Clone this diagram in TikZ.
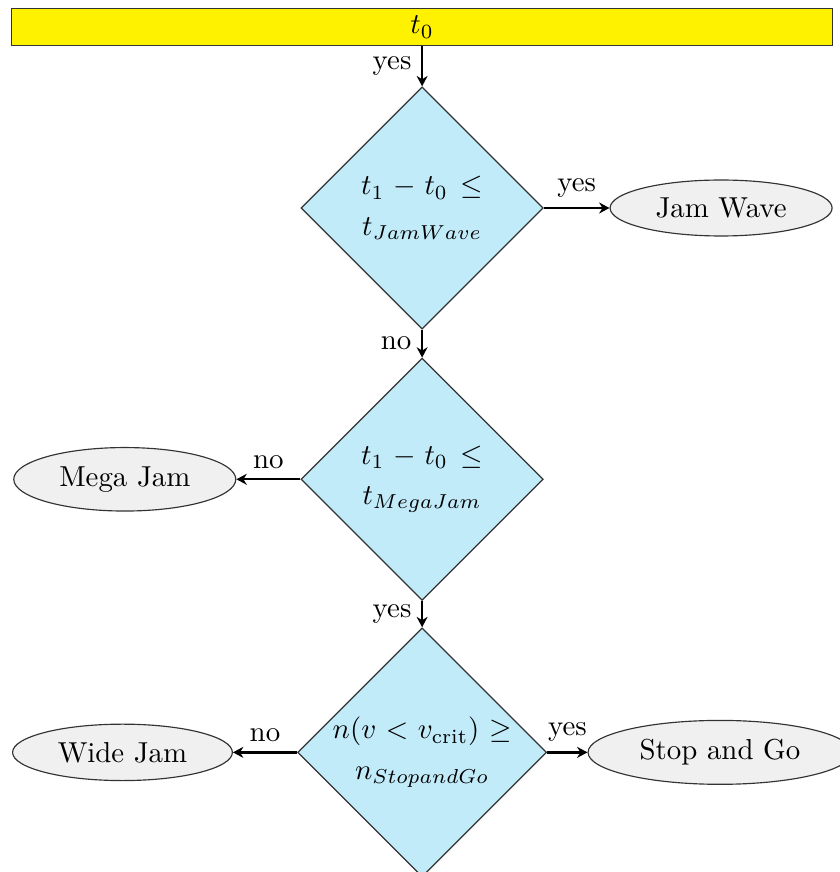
\documentclass[tikz,border=0pt]{standalone}
\usepackage{amsmath, amssymb}
\usepackage{tikz}
\usetikzlibrary{positioning, shapes.geometric, arrows.meta}

\definecolor{decfill}{RGB}{194,235,250}
\definecolor{endfill}{RGB}{240,240,240}

\begin{document}
\begin{tikzpicture}[
    start/.style={rectangle, draw=black!80, fill=yellow,
      minimum width=10.0cm, minimum height=0.45cm, inner sep=0pt},
    decision/.style={diamond, draw=black!80, fill=decfill, aspect=1,
      minimum width=2.95cm, minimum height=2.95cm, inner sep=0pt, align=center,
      execute at begin node={\medmuskip=5.5mu\thickmuskip=8mu}},
    result/.style={ellipse, draw=black!80, fill=endfill, inner xsep=4.5pt},
    arrow/.style={-{Stealth[length=3.6pt, width=3.8pt]}, thick, black},
    lab/.style={}
  ]
    \node[start] (t0) {$t_0$};
    \node[decision, below=0.49cm of t0] (jw) {$t_1 - t_0 \leq$\\[2pt]$t_{JamWave}$};
    \node[result, right=0.8cm of jw] (jwave) {Jam Wave};
    \node[decision, below=0.34cm of jw] (mj) {$t_1 - t_0 \leq$\\[2pt]$t_{MegaJam}$};
    \node[result, left=0.78cm of mj] (mjam) {Mega Jam};
    \node[decision, below=0.32cm of mj, minimum width=3.03cm, minimum height=3.03cm,
      execute at begin node={\thickmuskip=6mu}] (sg)
      {$n(v < v_{\text{crit}}) \geq$\\[2pt]$n_{StopandGo}$};
    \node[result, left=0.78cm of sg] (wjam) {Wide Jam};
    \node[result, right=0.49cm of sg] (sgo) {Stop and Go};

    \draw[arrow] (t0) -- node[midway, left, lab] {yes} (jw);
    \draw[arrow] (jw) -- node[midway, above, lab] {yes} (jwave);
    \draw[arrow] (jw) -- node[midway, left, lab] {no} (mj);
    \draw[arrow] (mj) -- node[midway, above, lab] {no} (mjam);
    \draw[arrow] (mj) -- node[midway, left, lab] {yes} (sg);
    \draw[arrow] (sg) -- node[midway, above, lab] {no} (wjam);
    \draw[arrow] (sg) -- node[midway, above, lab] {yes} (sgo);

    \pgfresetboundingbox
    \useasboundingbox ([xshift=-0.134cm, yshift=0.097cm]t0.north west) rectangle ++(10.23cm, -10.62cm);
  \end{tikzpicture}
\end{document}
